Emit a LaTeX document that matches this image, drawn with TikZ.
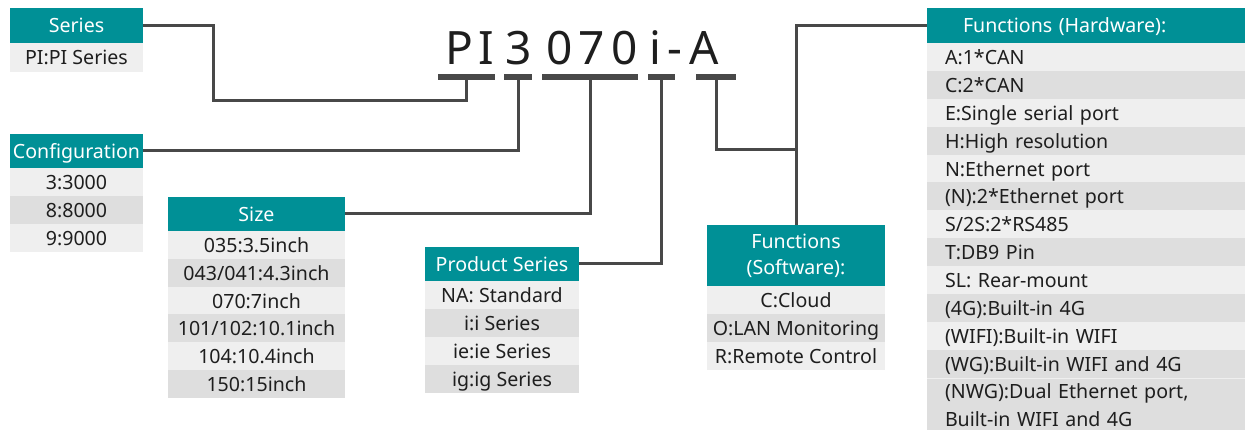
\documentclass[tikz,border=0pt]{standalone}
\usepackage{fontspec}
\setmainfont{Noto Sans}
\newfontfamily\titlefont[LetterSpace=14]{Noto Sans}
\definecolor{teal1}{RGB}{0,144,150}
\definecolor{rowA}{RGB}{239,239,239}
\definecolor{rowB}{RGB}{222,222,222}
\definecolor{lnc}{RGB}{72,72,72}
\definecolor{txt}{RGB}{30,30,30}
\begin{document}
\begin{tikzpicture}[x=1pt,y=-1pt,
  box/.style={rectangle, inner sep=0pt, font=\fontsize{19.6}{23}\selectfont, text=txt, text height=15pt, text depth=0pt},
  hdr/.style={box, fill=teal1, text=white},
  ra/.style={box, fill=rowA},
  rb/.style={box, fill=rowB},
  hwrow/.style={minimum width=318pt, text width=282pt, inner xsep=18pt, align=left, minimum height=27.9pt},
  bar/.style={rectangle, inner sep=0pt, fill=lnc, minimum height=6pt},
  conn/.style={draw=lnc, line width=3pt},
  ttl/.style={anchor=base, inner sep=0pt, font=\titlefont\fontsize{46}{50}\selectfont, text=txt}]
\useasboundingbox (0,0) rectangle (1251,430);

% title
\node[ttl] (tPI) at (470,65) {P\kern5pt I};
\node[ttl] (t3) at (519,65) {3};
\node[ttl] (t070) at (592,65) {070};
\node[ttl] (tiA) at (684,65) {i-A};

% bars
\node[bar, minimum width=57pt] (bPI) at (466.5,77) {};
\node[bar, minimum width=28pt] (b3) at (518,77) {};
\node[bar, minimum width=96pt] (b070) at (590,77) {};
\node[bar, minimum width=27pt] (bi) at (661.5,77) {};
\node[bar, minimum width=40pt] (bA) at (716,77) {};

% Series
\node[hdr, minimum width=133pt, minimum height=35pt] (ser) at (76.5,25.5) {Series};
\node[ra, minimum width=133pt, minimum height=29pt] (ser1) at (76.5,57.5) {PI:PI Series};

% Configuration
\node[hdr, minimum width=133pt, minimum height=34pt] (cfg) at (76.5,151) {Configuration};
\node[ra, minimum width=133pt, minimum height=28pt] (cfg1) at (76.5,182) {3:3000};
\node[rb, minimum width=133pt, minimum height=28pt] (cfg2) at (76.5,210) {8:8000};
\node[ra, minimum width=133pt, minimum height=28pt] (cfg3) at (76.5,238) {9:9000};

% Size
\node[hdr, minimum width=177pt, minimum height=34pt] (siz) at (256.5,214) {Size};
\node[ra, minimum width=177pt, minimum height=27.8pt] (siz1) at (256.5,245) {035:3.5inch};
\node[rb, minimum width=177pt, minimum height=27.8pt] (siz2) at (256.5,272.8) {043/041:4.3inch};
\node[ra, minimum width=177pt, minimum height=27.8pt] (siz3) at (256.5,300.6) {070:7inch};
\node[rb, minimum width=177pt, minimum height=27.8pt] (siz4) at (256.5,328.4) {101/102:10.1inch};
\node[ra, minimum width=177pt, minimum height=27.8pt] (siz5) at (256.5,356.2) {104:10.4inch};
\node[rb, minimum width=177pt, minimum height=27.8pt] (siz6) at (256.5,384) {150:15inch};

% Product Series
\node[hdr, minimum width=154pt, minimum height=34pt] (prd) at (502,264) {Product Series};
\node[ra, minimum width=154pt, minimum height=28pt] (prd1) at (502,295) {NA: Standard};
\node[rb, minimum width=154pt, minimum height=28pt] (prd2) at (502,323) {i:i Series};
\node[ra, minimum width=154pt, minimum height=28pt] (prd3) at (502,351) {ie:ie Series};
\node[rb, minimum width=154pt, minimum height=28pt] (prd4) at (502,379) {ig:ig Series};

% Functions (Software)
\node[hdr, minimum width=178pt, minimum height=62pt, align=center, text height=, text depth=, font=\fontsize{19.6}{26}\selectfont] (sw) at (796,256) {Functions\\(Software):};
\node[ra, minimum width=178pt, minimum height=28pt] (sw1) at (796,300) {C:Cloud};
\node[rb, minimum width=178pt, minimum height=28pt] (sw2) at (796,328) {O:LAN Monitoring};
\node[ra, minimum width=178pt, minimum height=28pt] (sw3) at (796,356) {R:Remote Control};

% Functions (Hardware)
\node[hdr, minimum width=318pt, minimum height=35pt, text width=246pt, inner xsep=36pt, align=left] (hw) at (1086,25.5) {Functions (Hardware):};
\node[ra, hwrow] (hw1) at (1086,56.95) {A:1*CAN};
\node[rb, hwrow] (hw2) at (1086,84.85) {C:2*CAN};
\node[ra, hwrow] (hw3) at (1086,112.75) {E:Single serial port};
\node[rb, hwrow] (hw4) at (1086,140.65) {H:High resolution};
\node[ra, hwrow] (hw5) at (1086,168.55) {N:Ethernet port};
\node[rb, hwrow] (hw6) at (1086,196.45) {(N):2*Ethernet port};
\node[ra, hwrow] (hw7) at (1086,224.35) {S/2S:2*RS485};
\node[rb, hwrow] (hw8) at (1086,252.25) {T:DB9 Pin};
\node[ra, hwrow] (hw9) at (1086,280.15) {SL: Rear-mount};
\node[rb, hwrow] (hw10) at (1086,308.05) {(4G):Built-in 4G};
\node[ra, hwrow] (hw11) at (1086,335.95) {(WIFI):Built-in WIFI};
\node[rb, hwrow] (hw12) at (1086,363.85) {(WG):Built-in WIFI and 4G};
\node[rb, hwrow, minimum height=52pt, text height=, text depth=, font=\fontsize{19.6}{28}\selectfont] (hw13) at (1086,405) {(NWG):Dual Ethernet port,\\Built-in WIFI and 4G};
\draw[rowA, line width=0.8pt] (hw13.north west) -- (hw13.north east);

% connectors
\coordinate (jn) at (796,150);
\draw[conn] (ser.east) -| (213,101) -| (bPI.south);
\draw[conn] (cfg.east) -| (b3.south);
\draw[conn] (siz.east) -| (b070.south);
\draw[conn] (prd.east) -| (bi.south);
\draw[conn] (bA.south) |- (jn);
\draw[conn] (sw.north) |- (hw.west);
\end{tikzpicture}
\end{document}
